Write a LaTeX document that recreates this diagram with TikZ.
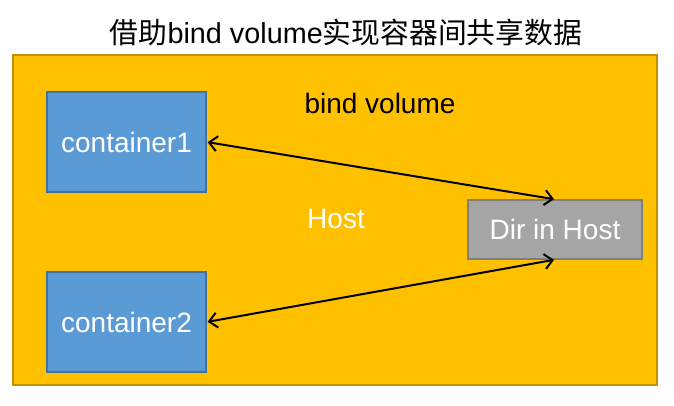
\documentclass[tikz,border=0pt]{standalone}
\usepackage{fontspec}
\setmainfont{Liberation Sans}
\newfontfamily\cjk{Noto Sans CJK SC}
\usetikzlibrary{arrows.meta}
\definecolor{gold}{HTML}{FFC000}
\definecolor{golddark}{HTML}{BF9000}
\definecolor{cblue}{HTML}{5B9BD5}
\definecolor{cbluedark}{HTML}{41719C}
\definecolor{cgray}{HTML}{A5A5A5}
\definecolor{cgraydark}{HTML}{7F7F7F}
\tikzset{
  bigtext/.style={font=\fontsize{28}{30}\selectfont},
  cbox/.style={draw=cbluedark, fill=cblue, line width=1.3pt, minimum width=159pt, minimum height=100pt, inner sep=0pt, text=white, bigtext},
  dirbox/.style={draw=cgraydark, fill=cgray, line width=1.3pt, minimum width=174pt, minimum height=59pt, inner sep=0pt, text=white, bigtext},
  link/.style={line width=2pt, {Straight Barb[length=8pt,width=15pt,line width=2pt]}-{Straight Barb[length=8pt,width=15pt,line width=2pt]}, shorten <=1pt, shorten >=1pt}
}
\begin{document}
\begin{tikzpicture}[x=1pt,y=-1pt]
\useasboundingbox (0,0) rectangle (674,406);
\fill[white] (0,0) rectangle (674,406);
\node[font=\fontsize{28.8}{30}\selectfont, inner sep=0pt] (title) at (346,33) {{\cjk 借助}bind volume{\cjk 实现容器间共享数据}};
\node[draw=golddark, fill=gold, line width=1.5pt, minimum width=644pt, minimum height=330pt, inner sep=0pt] (host) at (335,220) {};
\node[cbox] (c1) at (126.5,142) {container1};
\node[cbox] (c2) at (126.5,322) {container2};
\node[dirbox] (dir) at (555,229.5) {Dir in Host};
\node[bigtext, inner sep=0pt] (bv) at (380,103) {bind volume};
\node[bigtext, text=white, inner sep=0pt] (hl) at (336,219) {Host};
\draw[link] (c1.east) -- (dir.north);
\draw[link] (c2.east) -- (dir.south);
\end{tikzpicture}
\end{document}
